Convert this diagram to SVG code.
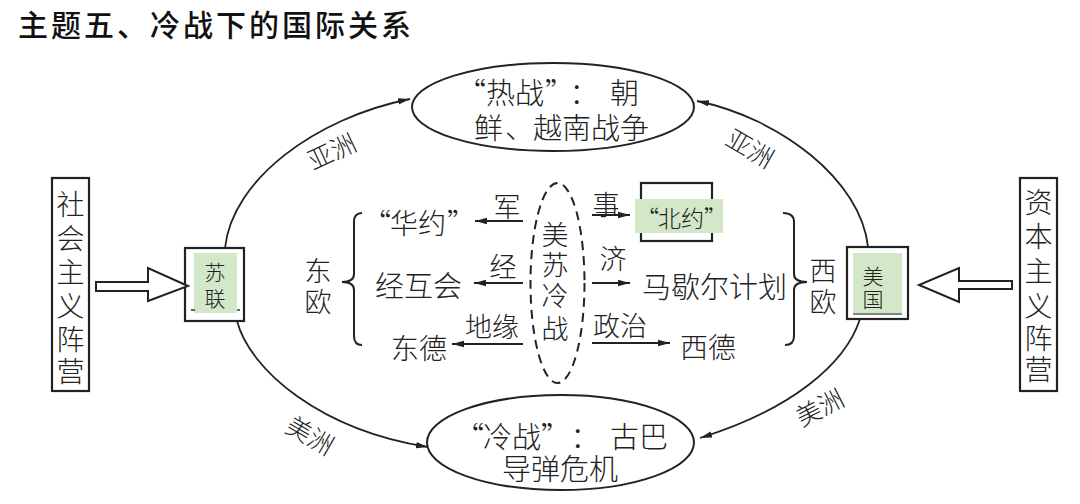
<svg xmlns="http://www.w3.org/2000/svg" width="1080" height="504" viewBox="0 0 1080 504">
<style>
  .t { font-family: "Noto Sans CJK SC", "Noto Sans", sans-serif; fill: #222; font-weight: 300; dominant-baseline: central; }
  .c { text-anchor: middle; }
  .e { text-anchor: end; }
  .title { font-family: "Noto Sans CJK SC", sans-serif; fill: #111; font-size: 30px; font-weight: 500; letter-spacing: 3px; }
  .ln { fill: none; stroke: #222; stroke-width: 2; }
  .cv { fill: none; stroke: #222; stroke-width: 1.8; }
  .box { fill: #fff; stroke: #222; stroke-width: 2.2; }
  .green { fill: #d3e8c9; }
</style>
<defs>
  <marker id="ah" viewBox="0 0 12 8" refX="12" refY="4" markerWidth="12" markerHeight="8" markerUnits="userSpaceOnUse" orient="auto">
    <path d="M0,0.8 L12,4 L0,7.2 z" fill="#222"/>
  </marker>
</defs>
<rect width="1080" height="504" fill="#fff"/>

<text class="title" x="18" y="36">主题五、冷战下的国际关系</text>

<!-- camps -->
<g id="socialist">
  <rect class="box" x="52" y="178" width="37" height="213"/>
  <text class="t c" font-size="28"><tspan x="70.5" y="203">社</tspan><tspan x="70.5" y="237">会</tspan><tspan x="70.5" y="271">主</tspan><tspan x="70.5" y="305">义</tspan><tspan x="70.5" y="338">阵</tspan><tspan x="70.5" y="370">营</tspan></text>
</g>
<g id="capitalist">
  <rect class="box" x="1020" y="178" width="37" height="213"/>
  <text class="t c" font-size="28"><tspan x="1038.5" y="201">资</tspan><tspan x="1038.5" y="235">本</tspan><tspan x="1038.5" y="270">主</tspan><tspan x="1038.5" y="305">义</tspan><tspan x="1038.5" y="337">阵</tspan><tspan x="1038.5" y="368">营</tspan></text>
</g>

<g id="ussr">
  <rect class="box" x="185" y="248" width="59" height="73"/>
  <rect class="green" x="194" y="253" width="43" height="60"/>
  <path d="M191 310 h4 M237 310 h3" stroke="#333" stroke-width="1.5"/>
  <text class="t c" font-size="21" font-weight="400"><tspan x="215" y="271">苏</tspan><tspan x="215" y="297">联</tspan></text>
</g>
<g id="usa">
  <rect class="box" x="847" y="247" width="61" height="72"/>
  <rect class="green" x="853" y="253" width="49" height="62"/>
  <path d="M853 314 H902" stroke="#666" stroke-width="1.5"/>
  <text class="t c" font-size="21" font-weight="400"><tspan x="873" y="275">美</tspan><tspan x="873" y="298">国</tspan></text>
</g>

<g id="hotwar">
  <ellipse class="ln" cx="553" cy="107" rx="141" ry="44"/>
  <text class="t" font-size="29"><tspan class="e" x="486" y="91">“</tspan><tspan x="486" y="91">热战</tspan><tspan x="545" y="91">”</tspan><tspan class="c" x="584" y="91">：</tspan><tspan x="610" y="91">朝</tspan><tspan x="474" y="126">鲜</tspan><tspan x="505" y="126">、</tspan><tspan x="533" y="126">越南战争</tspan></text>
</g>
<g id="coldwar">
  <ellipse class="ln" cx="560.5" cy="442.5" rx="133.5" ry="47.5"/>
  <text class="t" font-size="29"><tspan class="e" x="484" y="435">“</tspan><tspan x="483" y="435">冷战</tspan><tspan x="541" y="435">”</tspan><tspan class="c" x="585" y="435">：</tspan><tspan x="610" y="435">古巴</tspan><tspan x="502" y="467">导弹危机</tspan></text>
</g>

<g id="center">
  <ellipse cx="557.5" cy="283" rx="27" ry="100" fill="none" stroke="#222" stroke-width="2" stroke-dasharray="9 6"/>
  <text class="t c" font-size="27"><tspan x="555" y="233">美</tspan><tspan x="555" y="263">苏</tspan><tspan x="555" y="294">冷</tspan><tspan x="555" y="327">战</tspan></text>
</g>

<g id="east">
  <text class="t c" font-size="27"><tspan x="318" y="269">东</tspan><tspan x="318" y="300">欧</tspan></text>
  <path class="ln" d="M362 213 Q354 213 354 222 L354 274 Q354 282 342 282 Q354 282 354 290 L354 336 Q354 345 362 345"/>
  <text class="t" font-size="28"><tspan class="e" x="391" y="222">“</tspan><tspan x="390" y="222">华约</tspan><tspan x="447" y="222">”</tspan></text>
  <text class="t" font-size="29" x="375" y="284">经互会</text>
  <text class="t" font-size="28" x="391" y="347">东德</text>
</g>

<g id="west">
  <rect class="box" x="641" y="183" width="71" height="58"/>
  <rect class="green" x="635" y="199" width="88" height="34"/>
  <text class="t" font-size="23" font-weight="400"><tspan class="e" x="659" y="217">“</tspan><tspan x="658" y="217">北约</tspan><tspan x="704" y="217">”</tspan></text>
  <text class="t" font-size="29" x="642" y="285">马歇尔计划</text>
  <text class="t" font-size="28" x="680" y="346">西德</text>
  <path class="ln" d="M783 213 Q794 213 794 222 L794 274 Q794 282 807 282 Q794 282 794 290 L794 336 Q794 345 785 345"/>
  <text class="t c" font-size="27"><tspan x="823" y="269">西</tspan><tspan x="823" y="300">欧</tspan></text>
</g>

<g id="connectors">
  <polygon points="96,282 148,282 148,268 188,286 148,301 148,291 96,291" fill="#fff" stroke="#222" stroke-width="2" stroke-linejoin="miter"/>
  <polygon points="1012,281 959,281 959,268 919,285 959,302 959,289 1012,289" fill="#fff" stroke="#222" stroke-width="2" stroke-linejoin="miter"/>
  <path class="cv" d="M225 248 C232 180 315 118 410 99" marker-end="url(#ah)"/>
  <path class="cv" d="M868 247 C861 180 780 118 697 101" marker-end="url(#ah)"/>
  <path class="cv" d="M237 321 C250 370 320 430 428 447" marker-end="url(#ah)"/>
  <path class="cv" d="M860 319 C845 365 790 410 700 438" marker-end="url(#ah)"/>
  <path class="cv" d="M523 221 H475" marker-end="url(#ah)"/>
  <path class="cv" d="M523 283 H474" marker-end="url(#ah)"/>
  <path class="cv" d="M523 344 H452" marker-end="url(#ah)"/>
  <path class="cv" d="M592 215 H630" marker-end="url(#ah)"/>
  <path class="cv" d="M592 283 H630" marker-end="url(#ah)"/>
  <path class="cv" d="M592 343 H670" marker-end="url(#ah)"/>
</g>

<g id="labels">
  <g class="t c" font-size="27">
    <text x="507" y="205">军</text>
    <text x="503" y="265">经</text>
    <text x="492" y="325">地缘</text>
    <text x="606" y="203">事</text>
    <text x="613" y="257">济</text>
    <text x="620" y="324">政治</text>
  </g>
  <g class="t c" font-size="25">
    <text transform="translate(331 150) rotate(-25)">亚洲</text>
    <text transform="translate(751 147) rotate(30)">亚洲</text>
    <text transform="translate(311 434) rotate(30)">美洲</text>
    <text transform="translate(819 406) rotate(-27)">美洲</text>
  </g>
</g>
</svg>
